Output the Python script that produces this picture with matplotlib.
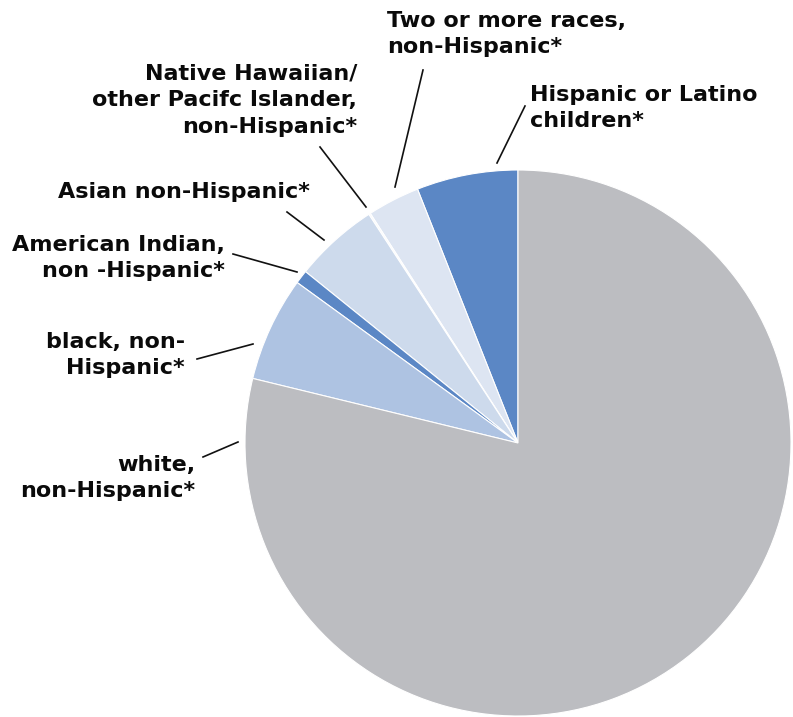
import matplotlib.pyplot as plt

W, H = 793, 717

# shares of children by race / ethnicity, counter-clockwise from 12 o'clock
groups = ["Hispanic or Latino\nchildren*",
          "Two or more races,\nnon-Hispanic*",
          "Native Hawaiian/\nother Pacifc Islander,\nnon-Hispanic*",
          "Asian non-Hispanic*",
          "American Indian,\nnon -Hispanic*",
          "black, non-\nHispanic*",
          "white,\nnon-Hispanic*"]
shares = [6.0, 3.1, 0.1, 5.0, 0.8, 6.2, 78.8]
colors = ["#5b87c5", "#dde5f2", "#f4f7fb", "#cddaec", "#5b87c5", "#aec3e2", "#bcbdc1"]

# label anchor (px), alignment, leader line start/end (px)
label_pos = [(530, 108, "left"), (387, 34, "left"), (357, 100, "right"),
             (310, 192, "right"), (225, 258, "right"), (185, 355, "right"),
             (195, 478, "right")]
leaders = [((525, 106), (497, 163)), ((423, 70), (395, 187)),
           ((320, 147), (366, 207)), ((287, 212), (324, 240)),
           ((233, 254), (297, 272)), ((197, 359), (253, 344)),
           ((203, 457), (238, 442))]

plt.rcParams['font.family'] = ['DejaVu Sans']

fig = plt.figure(figsize=(W / 100, H / 100), dpi=100)
ax = fig.add_axes([0, 0, 1, 1])

cx, cy, r = 518, H - 443, 273
ax.pie(shares, colors=colors, startangle=90, counterclock=True,
       center=(cx, cy), radius=r, frame=True,
       wedgeprops=dict(edgecolor='white', linewidth=0.8))
ax.set_xlim(0, W)
ax.set_ylim(0, H)
ax.set_aspect('equal')
ax.axis('off')

for text, (x, y, ha), (p0, p1) in zip(groups, label_pos, leaders):
    ax.text(x, H - y, text, ha=ha, va='center', fontsize=16,
            fontweight='bold', linespacing=1.42, color='#0a0a0a')
    ax.plot([p0[0], p1[0]], [H - p0[1], H - p1[1]], color='#111111', lw=1.2)

fig.savefig("out.png", dpi=100)
